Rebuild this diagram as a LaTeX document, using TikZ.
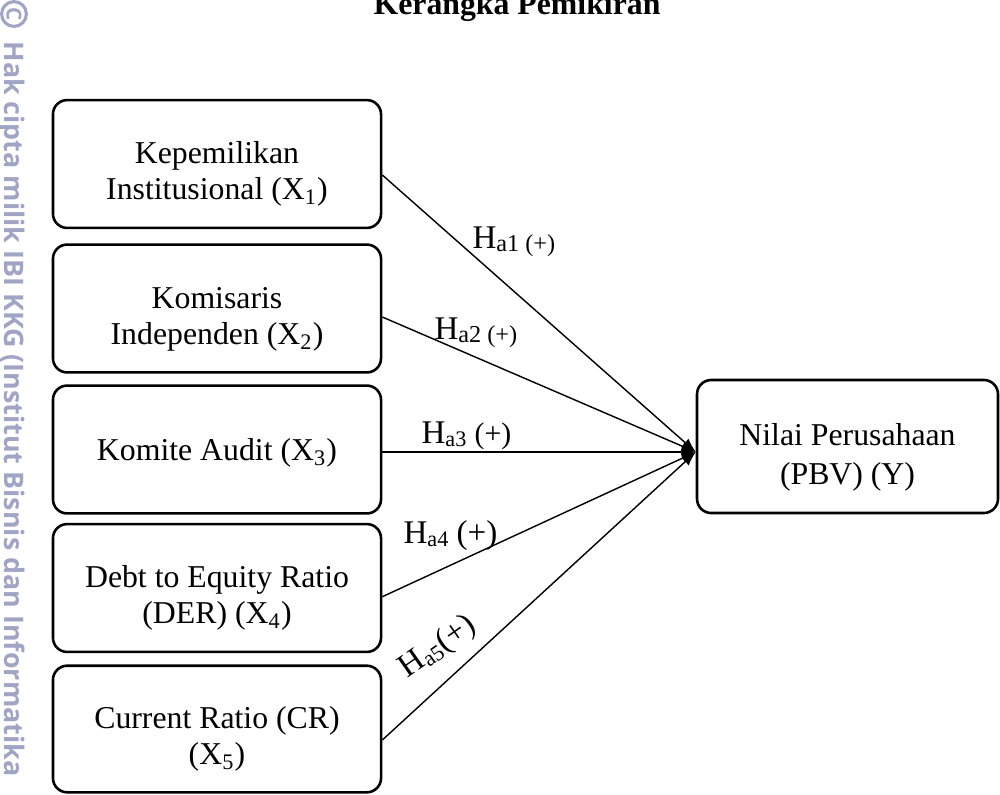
\documentclass[tikz,border=0pt]{standalone}
\usepackage{fontspec}
\setmainfont{Liberation Serif}
\newfontfamily\wmfont{Open Sans}
\usetikzlibrary{arrows.meta,calc}
\definecolor{wmcol}{RGB}{160,165,198}
\tikzset{
  varbox/.style={draw, line width=1pt, rounded corners=5.5pt, minimum width=127pt,
    minimum height=49.5pt, inner sep=0pt, align=center,
    font=\fontsize{12.3}{13.9}\selectfont},
  outbox/.style={varbox, minimum width=116.5pt, minimum height=51.5pt,
    font=\fontsize{12.3}{15.2}\selectfont},
  conn/.style={line width=0.55pt, -{Latex[length=5.5pt,width=4pt]}},
  hyp/.style={inner sep=0pt, anchor=base west, font=\fontsize{12.8}{14}\selectfont},
  wm/.style={text=wmcol, font=\wmfont\bfseries\fontsize{10.4}{12}\selectfont, inner sep=0pt}
}
\newcommand{\topstrut}{\rule{0pt}{16.5pt}}
\newcommand{\hsub}[1]{\raisebox{-1.4pt}{\fontsize{8.6}{10}\selectfont #1}}
\newcommand{\hsubb}[1]{\raisebox{-1.4pt}{\fontsize{9.4}{10}\selectfont #1}}
\begin{document}
\begin{tikzpicture}[x=0.3871pt,y=-0.3871pt]
\useasboundingbox (0,0) rectangle (1000,794);
\clip (0,0) rectangle (1000,794);
% title
\node[font=\bfseries\fontsize{12.3}{14}\selectfont, anchor=base, inner sep=0pt] (title) at (517,14) {Kerangka Pemikiran};
% watermark
\node[wm, rotate=-90, anchor=base west] (wmtext) at (4,41) {Hak cipta milik IBI KKG (Institut Bisnis dan Informatika};
\node[circle, draw=wmcol, line width=1.2pt, minimum size=9.6pt, inner sep=0pt, rotate=-90,
  text=wmcol, font=\wmfont\bfseries\fontsize{8}{8}\selectfont] (copy) at (14,14) {C};
% boxes
\node[varbox] (b1) at (217,164) {\topstrut Kepemilikan\\Institusional (X\textsubscript{1})};
\node[varbox] (b2) at (217,308.5) {\topstrut Komisaris\\Independen (X\textsubscript{2})};
\node[varbox] (b3) at (217,449.5) {\rule{0pt}{11.5pt}Komite Audit (X\textsubscript{3})};
\node[varbox] (b4) at (217,588) {\topstrut Debt to Equity Ratio\\(DER) (X\textsubscript{4})};
\node[varbox, minimum height=49pt] (b5) at (217,729) {\topstrut Current Ratio (CR)\\(X\textsubscript{5})};
\node[outbox] (y) at (847.5,446.5) {\rule{0pt}{17pt}Nilai Perusahaan\\(PBV) (Y)};
% connectors
\coordinate (tip) at ($(y.west)+(0,5.5)$);
\coordinate (s1) at ($(b1.east)+(0,11)$);
\coordinate (s2) at ($(b2.east)+(0,8.5)$);
\coordinate (s3) at ($(b3.east)+(0,2.5)$);
\coordinate (s4) at ($(b4.east)+(0,8.7)$);
\coordinate (s5) at ($(b5.east)+(0,11)$);
\draw[conn] (s1) -- (tip);
\draw[conn] (s2) -- (tip);
\draw[conn] (s3) -- (tip);
\draw[conn] (s4) -- (tip);
\draw[conn] (s5) -- (tip);
% hypothesis labels
\node[hyp] (h1) at (472,248) {H\hsubb{a1 (+)}};
\node[hyp] (h2) at (434,339) {H\hsubb{a2 (+)}};
\node[hyp] (h3) at (421,443) {H\hsub{a3} {\fontsize{11.5}{13}\selectfont(+)}};
\node[hyp] (h4) at (403,543) {H\hsub{a4} (+)};
\node[hyp, rotate=35] (h5) at (407,679) {H\hsub{a5}(+)};
\end{tikzpicture}
\end{document}
